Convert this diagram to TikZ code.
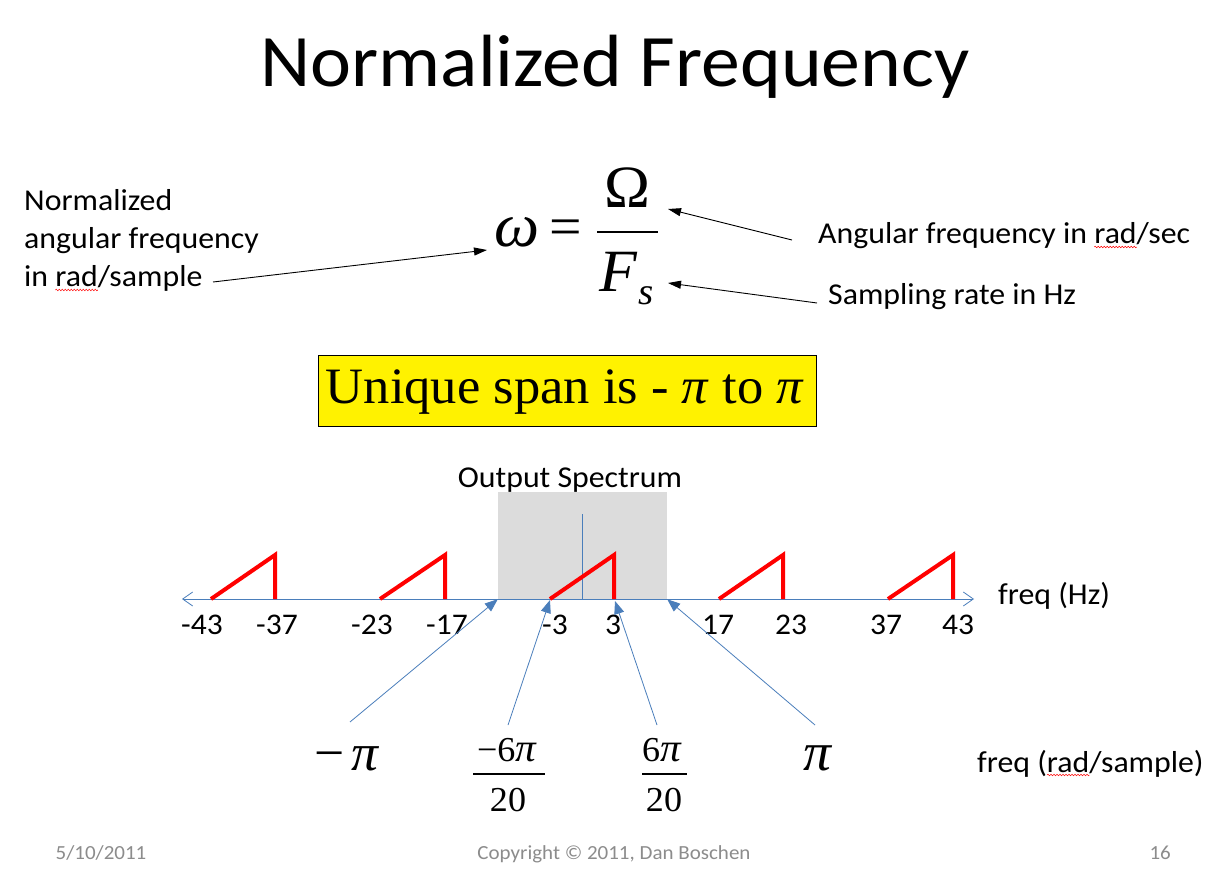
\documentclass[tikz,border=0pt]{standalone}
\usepackage{fontspec}
\usetikzlibrary{arrows.meta,decorations.pathmorphing}
\setmainfont{Carlito}[FakeStretch=1.05]
\newfontfamily\tms{Liberation Serif}[FakeStretch=1.03]
\definecolor{axisblue}{HTML}{4A7EBB}
\definecolor{specgray}{HTML}{DCDCDC}
\definecolor{footgray}{HTML}{8C8C8C}
\newlength\sqlen
\newcommand\sqw[1]{\settowidth\sqlen{#1}\rlap{\tikz[baseline=0pt,x=1pt,y=1pt,overlay]\draw[red,line width=0.5pt,decorate,decoration={snake,amplitude=0.8pt,segment length=3pt}] (0pt,-3pt) -- (\sqlen,-3pt);}#1}
\begin{document}
\begin{tikzpicture}[x=1pt,y=-1pt,
  txt/.style={inner sep=0pt, font=\fontsize{30.3}{36}\selectfont},
  lbl/.style={inner sep=0pt, anchor=base, font=\fontsize{30}{36}\selectfont},
  foot/.style={inner sep=0pt, anchor=base, text=footgray, font=\fontsize{20}{24}\selectfont},
  tmath/.style={inner sep=0pt, anchor=base, font=\tms\fontsize{#1}{#1}\selectfont},
  blackarrow/.style={-{Triangle[length=13pt,width=8pt]}, line width=0.9pt, black},
  bluearrow/.style={-{Triangle[length=13pt,width=10pt]}, line width=0.8pt, axisblue},
  axisline/.style={{Straight Barb[length=10pt,width=14pt]}-{Straight Barb[length=10pt,width=14pt]}, line width=0.8pt, axisblue},
  spec/.style={red, line width=4pt},
  fracbar/.style={line width=2.2pt, black}]
\useasboundingbox (0,0) rectangle (1227,877);
\fill[white] (0,0) rectangle (1227,877);

% title
\node[anchor=base, inner sep=0pt, font=\fontsize{74}{84}\selectfont] (title) at (615,87) {Normalized Frequency};

% left text
\node[txt, anchor=base west] (l1) at (24,211) {Normalized};
\node[txt, anchor=base west] (l2) at (24,249) {angular frequency};
\node[txt, anchor=base west] (l3) at (24,287) {in \sqw{rad}/sample};
\coordinate (lt) at (213,282);
\coordinate (lh) at (487,250);
\draw[blackarrow] (lt) -- (lh);

% equation
\node[tmath=62] (omega) at (517,247) {\itshape ω};
\node[tmath=56] (eq) at (566,246) {=};
\node[tmath=60] (Om) at (627,208) {Ω};
\draw[fracbar] (597,232) -- (658,232);
\node[tmath=60] (F) at (618,292) {\itshape F};
\node[tmath=38, anchor=base west] (s) at (638,305) {\itshape s};

% right text
\node[txt, anchor=base west] (ang) at (818,244) {Angular frequency in \sqw{rad}/sec};
\node[txt, anchor=base west] (samp) at (828,305) {Sampling rate in Hz};
\coordinate (at) at (792,240);
\coordinate (ah) at (668,209);
\coordinate (st) at (817,303);
\coordinate (sh) at (668,283);
\draw[blackarrow] (at) -- (ah);
\draw[blackarrow] (st) -- (sh);

% yellow box
\node[draw=black, fill=yellow, line width=0.8pt, minimum width=498pt, minimum height=71pt, inner sep=0pt] (span) at (567,390.5) {};
\node[tmath=51] (spantxt) at (565,403) {Unique span is - \textit{π} to \textit{π}};

% spectrum
\node[fill=specgray, minimum width=169pt, minimum height=107pt, inner sep=0pt] (osbox) at (582.5,545.5) {};
\node[txt, anchor=base] (ostitle) at (570,487) {Output Spectrum};
\draw[axisblue, line width=0.7pt] (582,514) -- (582,599);
\coordinate (axL) at (182,599);
\coordinate (axR) at (974,599);
\draw[axisline] (axL) -- (axR);
\foreach \a/\b in {211/275, 380/445, 550/614, 719/783, 888/953}
  \draw[spec] (\a,599) -- (\b,555) -- (\b,599);

\node[lbl] (h1) at (202,634) {-43};
\node[lbl] (h2) at (277,634) {-37};
\node[lbl] (h3) at (372,634) {-23};
\node[lbl] (h4) at (447,634) {-17};
\node[lbl] (h5) at (555,634) {-3};
\node[lbl] (h6) at (613,634) {3};
\node[lbl] (h7) at (718,634) {17};
\node[lbl] (h8) at (791,634) {23};
\node[lbl] (h9) at (886,634) {37};
\node[lbl] (h10) at (958,634) {43};
\node[txt, anchor=base west] (fhz) at (998,604) {freq (Hz)};

% pointer arrows
\coordinate (p1) at (350,722);
\coordinate (p2) at (508,725);
\coordinate (p3) at (657,725);
\coordinate (p4) at (815,725);
\coordinate (t3s) at (550,600);
\coordinate (t3e) at (615,601);
\draw[bluearrow] (p1) -- (osbox.south west);
\draw[bluearrow] (p2) -- (t3s);
\draw[bluearrow] (p3) -- (t3e);
\draw[bluearrow] (p4) -- (osbox.south east);

% rad/sample values
\node[tmath=52] (mpi) at (347,770) {−\hspace{6pt}\textit{π}};
\node[tmath=35] (n1) at (507,761) {−6{\fontsize{40}{40}\selectfont\textit{π}}};
\draw[fracbar] (473,774) -- (545,774);
\node[tmath=35] (d1) at (508,811) {20};
\node[tmath=35] (n2) at (662,761) {6{\fontsize{40}{40}\selectfont\textit{π}}};
\draw[fracbar] (642,774) -- (687,774);
\node[tmath=35] (d2) at (664,811) {20};
\node[tmath=54] (ppi) at (818,770) {\textit{π}};
\node[txt, anchor=base west] (frs) at (977,772) {freq (\sqw{rad}/sample)};

% footer
\node[foot] (date) at (101,859) {5/10/2011};
\node[foot] (copy) at (614,859) {Copyright © 2011, Dan Boschen};
\node[foot, anchor=base east] (page) at (1171,859) {16};
\end{tikzpicture}
\end{document}
